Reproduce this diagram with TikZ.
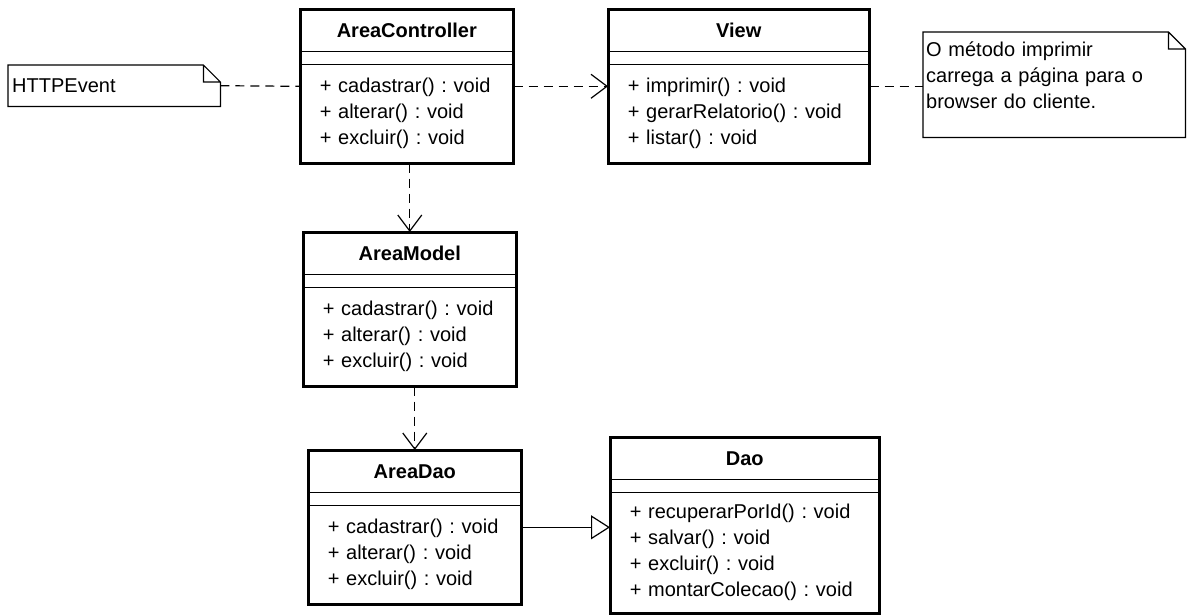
\documentclass[tikz,border=0pt]{standalone}
\usepackage{fontspec}
\setmainfont{Liberation Sans}
\frenchspacing
\usetikzlibrary{matrix,positioning,arrows.meta}

\begin{document}
\begin{tikzpicture}[x=1pt, y=-1pt,
    font=\fontsize{20}{26}\selectfont,
    uml-class/.style={matrix of nodes, row sep=-1.2pt, inner sep=0pt, anchor=north west,
      nodes={draw, line width=1.2pt, text width=#1, inner xsep=19pt, inner ysep=0pt, anchor=center}},
    cls-title/.style={font=\fontsize{20}{26}\selectfont\bfseries, align=center, minimum height=42pt},
    cls-gap/.style={minimum height=13pt},
    cls-ops/.style={align=left, minimum height=#1},
    cls-frame/.style={line width=3pt},
    note/.style={align=left, inner xsep=4pt, inner ysep=3pt},
    note-line/.style={line width=1.2pt},
    dash-line/.style={line width=1.2pt, dash pattern=on 9pt off 6pt},
    dep/.style={dash-line, -{Straight Barb[length=16pt, width=24pt]}},
    gen/.style={line width=1.2pt, -{Triangle[open, length=19pt, width=24pt]}}
  ]
\useasboundingbox[fill=white] (0,0) rectangle (1194,614);

% Controller and view
\matrix (ctrl) [uml-class=174pt] at (300,9) {
  |[cls-title]| AreaController \\
  |[cls-gap]| {} \\
  |[cls-ops=98pt]| {+ cadastrar() : void\\+ alterar() : void\\+ excluir() : void} \\
};
\matrix (view) [uml-class=222pt] at (608,9) {
  |[cls-title]| View \\
  |[cls-gap]| {} \\
  |[cls-ops=98pt]| {+ imprimir() : void\\+ gerarRelatorio() : void\\+ listar() : void} \\
};

% Model
\matrix (model) [uml-class=174pt] at (303,232) {
  |[cls-title]| AreaModel \\
  |[cls-gap]| {} \\
  |[cls-ops=98pt]| {+ cadastrar() : void\\+ alterar() : void\\+ excluir() : void} \\
};

% Data access
\matrix (areadao) [uml-class=174pt] at (308,450) {
  |[cls-title]| AreaDao \\
  |[cls-gap]| {} \\
  |[cls-ops=98pt]| {+ cadastrar() : void\\+ alterar() : void\\+ excluir() : void} \\
};
\matrix (dao) [uml-class=230pt] at (610,437) {
  |[cls-title]| Dao \\
  |[cls-gap]| {} \\
  |[cls-ops=120pt]| {+ recuperarPorId() : void\\+ salvar() : void\\+ excluir() : void\\+ montarColecao() : void} \\
};

% Thick class borders
\foreach \c in {ctrl, view, model, areadao, dao} {
  \draw[cls-frame] (\c.north west) rectangle (\c.south east);
}

% Notes
\node[note, text width=204pt, minimum height=41pt, anchor=north west] (httpevt) at (8,65) {HTTPEvent};
\node[note, text width=256pt, inner xsep=3pt, text height=21pt, text depth=78pt, anchor=north west] (remark) at (923,32)
  {O método imprimir\\carrega a página para o\\browser do cliente.};
\foreach \n in {httpevt, remark} {
  \draw[note-line] (\n.north west) -- ([xshift=-17pt]\n.north east) -- ([yshift=-17pt]\n.north east)
    -- (\n.south east) -- (\n.south west) -- cycle
    ([xshift=-17pt]\n.north east) |- ([yshift=-17pt]\n.north east);
}

% Connectors
\draw[dash-line] (httpevt.east) -- (ctrl.west);
\draw[dep] (ctrl.east) -- (view.west);
\draw[dash-line] (view.east) -- (view.east -| remark.west);
\draw[dep] (model.north |- ctrl.south) -- (model.north);
\draw[dep] (areadao.north |- model.south) -- (areadao.north);
\draw[gen] (areadao.east) -- (dao.west |- areadao.east);

\end{tikzpicture}
\end{document}
